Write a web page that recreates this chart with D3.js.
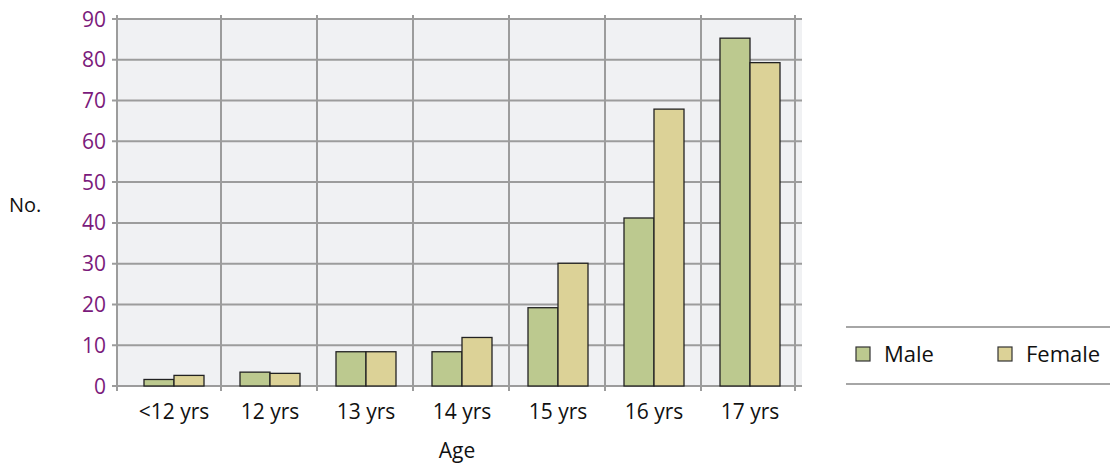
<!DOCTYPE html>
<html>
<head>
<meta charset="utf-8">
<script src="https://cdn.jsdelivr.net/npm/d3@7"></script>
<style>
  body { margin: 0; background: #fff; }
  text { font-family: "Open Sans", "Noto Sans", sans-serif; }
</style>
</head>
<body>
<div id="chart"></div>
<script>
// Data
const ages = ['<12 yrs', '12 yrs', '13 yrs', '14 yrs', '15 yrs', '16 yrs', '17 yrs'];
const male = [1.6, 3.4, 8.4, 8.4, 19.2, 41.2, 85.3];
const female = [2.6, 3.1, 8.4, 11.9, 30.1, 67.9, 79.3];
const series = ['Male', 'Female'];
const yTicks = [0, 10, 20, 30, 40, 50, 60, 70, 80, 90];

const width = 1110, height = 466;
const colors = { Male: '#bcc98f', Female: '#dcd297' };
const gridColor = '#9c9c9c';

const svg = d3.select('#chart').append('svg')
  .attr('width', width)
  .attr('height', height);

const y = d3.scaleLinear().domain([0, 90]).range([386, 19]);
const x = d3.scaleBand().domain(ages).range([126, 798]).paddingInner(0).paddingOuter(0);
const barW = 30;
const xs = d3.scaleBand().domain(series).range([0, barW * 2]);

// plot background
svg.append('rect')
  .attr('x', 117).attr('y', y(90))
  .attr('width', 802 - 117).attr('height', y(0) - y(90))
  .attr('fill', '#f0f1f3');

// horizontal grid + y ticks
svg.selectAll('.hgrid')
  .data(yTicks)
  .join('line')
  .attr('class', 'hgrid')
  .attr('x1', 112).attr('x2', 802)
  .attr('y1', d => y(d)).attr('y2', d => y(d))
  .attr('stroke', gridColor).attr('stroke-width', 2);

// vertical grid at band edges (plus y axis)
const vEdges = [117].concat(ages.slice(1).map(a => x(a) - 1), [795]);
svg.selectAll('.vgrid')
  .data(vEdges)
  .join('line')
  .attr('class', 'vgrid')
  .attr('x1', d => d).attr('x2', d => d)
  .attr('y1', y(90) - 4).attr('y2', y(0) + 5)
  .attr('stroke', gridColor).attr('stroke-width', 2);

// y tick labels
svg.selectAll('.ylab')
  .data(yTicks)
  .join('text')
  .attr('class', 'ylab')
  .attr('x', 106)
  .attr('y', d => y(d))
  .attr('dy', '0.36em')
  .attr('text-anchor', 'end')
  .attr('fill', '#7b1a7b')
  .style('font-size', '21px')
  .text(d => d);

// bars
const groups = svg.selectAll('.grp')
  .data(ages.map((a, i) => ({ age: a, Male: male[i], Female: female[i] })))
  .join('g')
  .attr('class', 'grp')
  .attr('transform', d => `translate(${x(d.age) + x.bandwidth() / 2 - barW},0)`);

groups.selectAll('rect')
  .data(d => series.map(s => ({ key: s, value: d[s] })))
  .join('rect')
  .attr('x', d => xs(d.key))
  .attr('y', d => y(d.value))
  .attr('width', xs.bandwidth())
  .attr('height', d => y(0) - y(d.value))
  .attr('fill', d => colors[d.key])
  .attr('stroke', '#222')
  .attr('stroke-width', 1.3);

// x labels
svg.selectAll('.xlab')
  .data(ages)
  .join('text')
  .attr('class', 'xlab')
  .attr('x', d => x(d) + x.bandwidth() / 2)
  .attr('y', 419)
  .attr('text-anchor', 'middle')
  .attr('fill', '#111')
  .style('font-size', '21px')
  .text(d => d);

// axis titles
svg.append('text')
  .attr('x', 457).attr('y', 458)
  .attr('text-anchor', 'middle')
  .attr('fill', '#111')
  .style('font-size', '21px')
  .text('Age');

svg.append('text')
  .attr('x', 9).attr('y', 212)
  .attr('fill', '#111')
  .style('font-size', '20px')
  .text('No.');

// legend
const legend = svg.append('g');
[327, 384].forEach(ly => {
  legend.append('line')
    .attr('x1', 846).attr('x2', 1110)
    .attr('y1', ly).attr('y2', ly)
    .attr('stroke', '#a6a6a6').attr('stroke-width', 2);
});
const legendX = { Male: 856, Female: 998 };
series.forEach(s => {
  legend.append('rect')
    .attr('x', legendX[s]).attr('y', 347)
    .attr('width', 14).attr('height', 14)
    .attr('fill', colors[s])
    .attr('stroke', '#333').attr('stroke-width', 1.2);
  legend.append('text')
    .attr('x', legendX[s] + 28).attr('y', 362)
    .attr('fill', '#111')
    .style('font-size', '22px')
    .text(s);
});
</script>
</body>
</html>
